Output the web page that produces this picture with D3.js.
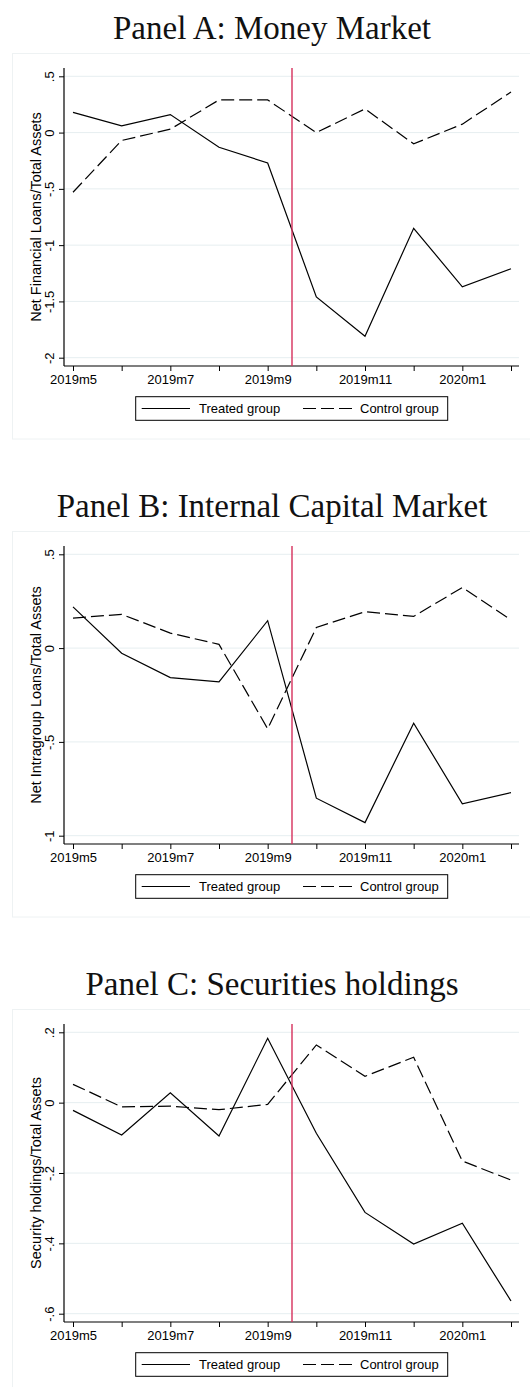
<!DOCTYPE html>
<html>
<head>
<meta charset="utf-8">
<script src="https://cdn.jsdelivr.net/npm/d3@7"></script>
<style>
  body { margin: 0; background: #fff; }
  svg { display: block; }
</style>
</head>
<body>
<script>
// ---- data ----
const months = ["2019m5","2019m6","2019m7","2019m8","2019m9","2019m10","2019m11","2019m12","2020m1","2020m2"];
const tickLabels = ["2019m5","2019m7","2019m9","2019m11","2020m1"];
const seriesNames = ["Treated group", "Control group"];

const titles = ["Panel A: Money Market", "Panel B: Internal Capital Market", "Panel C: Securities holdings"];
const yTitles = ["Net Financial Loans/Total Assets", "Net Intragroup Loans/Total Assets", "Security holdings/Total Assets"];

const treatedA = [0.18, 0.06, 0.16, -0.13, -0.27, -1.46, -1.81, -0.85, -1.37, -1.21];
const controlA = [-0.53, -0.07, 0.03, 0.29, 0.29, 0.00, 0.21, -0.10, 0.075, 0.36];
const treatedB = [0.22, -0.027, -0.157, -0.18, 0.146, -0.80, -0.93, -0.40, -0.83, -0.77];
const controlB = [0.16, 0.18, 0.08, 0.02, -0.43, 0.11, 0.194, 0.169, 0.323, 0.151];
const treatedC = [-0.022, -0.092, 0.028, -0.095, 0.183, -0.087, -0.312, -0.402, -0.343, -0.564];
const controlC = [0.052, -0.012, -0.01, -0.02, -0.005, 0.164, 0.075, 0.129, -0.166, -0.22];

const yTicksA = [0.5, 0, -0.5, -1, -1.5, -2];
const yTicksB = [0.5, 0, -0.5, -1];
const yTicksC = [0.2, 0, -0.2, -0.4, -0.6];
const yTickLabelsA = [".5", "0", "-.5", "-1", "-1.5", "-2"];
const yTickLabelsB = [".5", "0", "-.5", "-1"];
const yTickLabelsC = [".2", "0", "-.2", "-.4", "-.6"];
const eventIndex = 4.5; // treatment date between 2019m9 and 2019m10

const panels = [
  {title: titles[0], ytitle: yTitles[0], treated: treatedA, control: controlA, ticks: yTicksA, labels: yTickLabelsA},
  {title: titles[1], ytitle: yTitles[1], treated: treatedB, control: controlB, ticks: yTicksB, labels: yTickLabelsB},
  {title: titles[2], ytitle: yTitles[2], treated: treatedC, control: controlC, ticks: yTicksC, labels: yTickLabelsC}
];

// ---- layout ----
const W = 530, H = 1387;
const step = 478;
const sans = "'Liberation Sans', Arial, sans-serif";
const serif = "'Liberation Serif', 'Times New Roman', serif";
const gridColor = "#e6eef0";
const frameColor = "#eef2f3";
const redColor = "#d6305c";
const dash = "13,5";

const svg = d3.select("body").append("svg").attr("width", W).attr("height", H);

const x = d3.scaleLinear().domain([0, months.length - 1]).range([73, 511]);
const axisLeftX = 64, plotRight = 519;

panels.forEach((p, k) => {
  const o = step * k;
  const g = svg.append("g");
  const y = d3.scaleLinear().domain([p.ticks[p.ticks.length - 1], p.ticks[0]]).range([357.7 + o, 76.3 + o]);
  const axTop = 68 + o, axBottom = 366 + o;

  // frame
  g.append("rect").attr("x", 12.5).attr("y", 53.5 + o).attr("width", 540).attr("height", 385.5)
    .attr("fill", "none").attr("stroke", frameColor).attr("stroke-width", 1);

  // title
  g.append("text").attr("x", 272).attr("y", 39.3 + o).attr("text-anchor", "middle")
    .attr("font-family", serif).attr("font-size", 33).attr("fill", "#111").text(p.title);

  // grid
  g.append("g").selectAll("line").data(p.ticks).join("line")
    .attr("x1", axisLeftX).attr("x2", plotRight)
    .attr("y1", d => y(d)).attr("y2", d => y(d))
    .attr("stroke", gridColor).attr("stroke-width", 1);

  // y axis
  const yAxis = d3.axisLeft(y).tickValues(p.ticks).tickSize(5).tickSizeOuter(0)
    .tickFormat((d, i) => p.labels[i]);
  const ya = g.append("g").attr("transform", `translate(${axisLeftX},0)`).call(yAxis);
  ya.select(".domain").remove();
  ya.append("line").attr("x1", 0).attr("x2", 0).attr("y1", axTop).attr("y2", axBottom)
    .attr("stroke", "#000").attr("stroke-width", 1.2);
  ya.selectAll(".tick line").attr("stroke", "#000").attr("stroke-width", 1);
  ya.selectAll(".tick text")
    .attr("x", null).attr("dy", null)
    .attr("transform", "translate(-10,0) rotate(-90)")
    .attr("text-anchor", "middle")
    .attr("font-family", sans).attr("font-size", 13).attr("fill", "#000");

  // y title
  g.append("text")
    .attr("transform", `translate(40.5,${(axTop + axBottom) / 2}) rotate(-90)`)
    .attr("text-anchor", "middle").attr("font-family", sans).attr("font-size", 14.5).attr("fill", "#000")
    .text(p.ytitle);

  // x axis
  const xAxis = d3.axisBottom(x).tickValues(d3.range(months.length)).tickSize(5).tickSizeOuter(0)
    .tickFormat(i => tickLabels.includes(months[i]) ? months[i] : "");
  const xa = g.append("g").attr("transform", `translate(0,${axBottom})`).call(xAxis);
  xa.select(".domain").remove();
  xa.append("line").attr("x1", axisLeftX).attr("x2", plotRight).attr("y1", 0).attr("y2", 0)
    .attr("stroke", "#000").attr("stroke-width", 1.2);
  xa.selectAll(".tick line").attr("stroke", "#000").attr("stroke-width", 1);
  xa.selectAll(".tick text").attr("y", 18.3).attr("dy", null)
    .attr("font-family", sans).attr("font-size", 13).attr("fill", "#000");

  // lines
  const line = d3.line().x((d, i) => x(i)).y(d => y(d));
  g.append("path").datum(p.treated).attr("d", line)
    .attr("fill", "none").attr("stroke", "#000").attr("stroke-width", 1.2).attr("stroke-linejoin", "miter");
  g.append("path").datum(p.control).attr("d", line)
    .attr("fill", "none").attr("stroke", "#000").attr("stroke-width", 1.2)
    .attr("stroke-dasharray", dash);

  // event line
  g.append("line").attr("x1", x(eventIndex)).attr("x2", x(eventIndex))
    .attr("y1", axTop).attr("y2", axBottom)
    .attr("stroke", redColor).attr("stroke-width", 1.4);

  // legend
  const lg = g.append("g");
  lg.append("rect").attr("x", 135.7).attr("y", 396.7 + o).attr("width", 312).attr("height", 23.6)
    .attr("fill", "#fff").attr("stroke", "#000").attr("stroke-width", 1);
  const ly = 408.5 + o;
  lg.append("line").attr("x1", 141.7).attr("x2", 190).attr("y1", ly).attr("y2", ly)
    .attr("stroke", "#000").attr("stroke-width", 1.2);
  lg.append("text").attr("x", 199).attr("y", ly + 4.6).attr("font-family", sans).attr("font-size", 13)
    .text(seriesNames[0]);
  lg.append("line").attr("x1", 303).attr("x2", 352).attr("y1", ly).attr("y2", ly)
    .attr("stroke", "#000").attr("stroke-width", 1.2).attr("stroke-dasharray", dash);
  lg.append("text").attr("x", 360).attr("y", ly + 4.6).attr("font-family", sans).attr("font-size", 13)
    .text(seriesNames[1]);
});
</script>
</body>
</html>
